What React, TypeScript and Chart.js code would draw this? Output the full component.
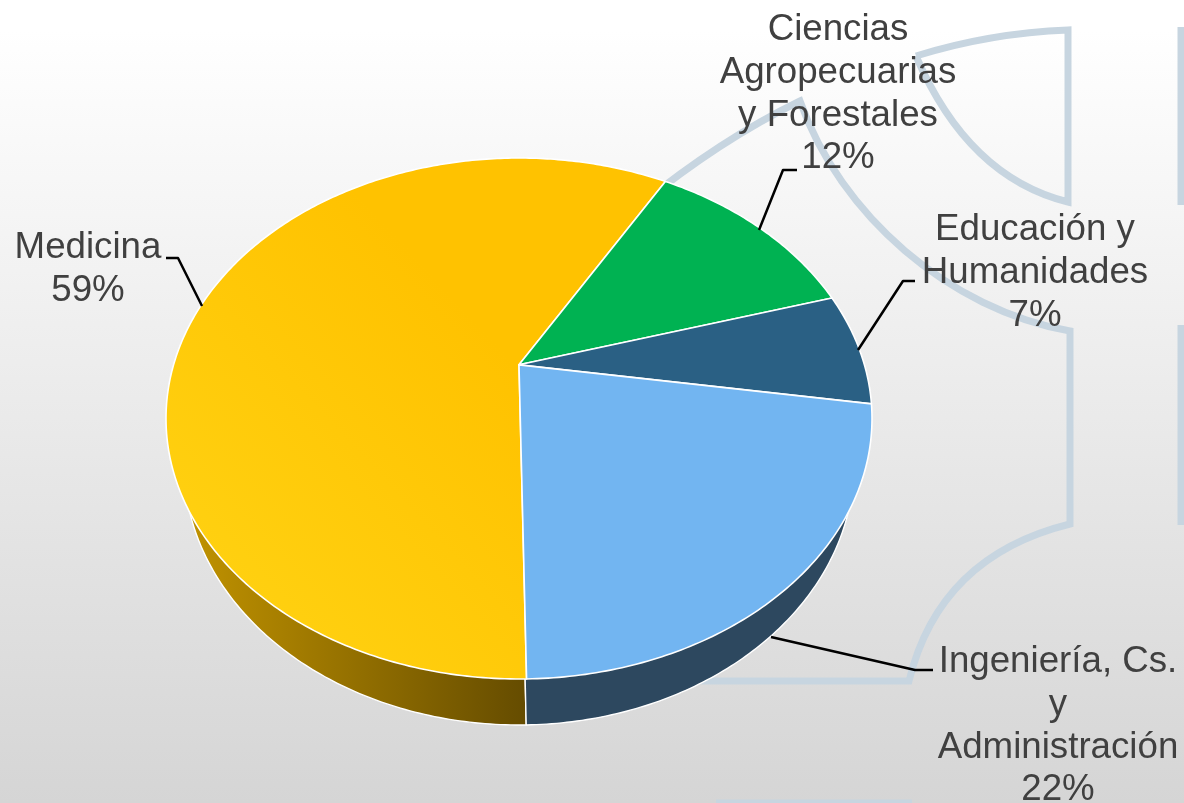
import React, { useEffect, useRef } from "react";
import { Chart, registerables } from "chart.js";

Chart.register(...registerables);

const categories = ["Medicina", "Ciencias Agropecuarias y Forestales", "Educación y Humanidades", "Ingeniería, Cs. y Administración"];
const labelLines = [["Medicina"], ["Ciencias", "Agropecuarias", "y Forestales"], ["Educación y", "Humanidades"], ["Ingeniería, Cs.", "y", "Administración"]];
const shares = [58.6, 12.1, 7.0, 22.3];
const topColors = ["#ffc200", "#00b252", "#2a6084", "#72b5f1"];
const wallColors = ["#8a6700", "#00602c", "#16344a", "#2d485f"];

const startRotation = 179;
const perspective = -0.206;
const lowerRim = { dx: 0, dy: 45.5, rx: 335, ry: 261 };
const labelAnchors = [
  { x: 88, y: 248, leader: [[166, 258], [178, 258], [202, 306]] },
  { x: 838, y: 30, leader: [[797, 170], [783, 170], [759, 230]] },
  { x: 1035, y: 230, leader: [[915, 281], [903, 281], [858, 350]] },
  { x: 1058, y: 662, leader: [[933, 670], [915, 670], [771, 637]] },
];

function rimPoint(a: number, cx: number, cy: number, rx: number, ry: number) {
  const u = Math.cos(a), v = Math.sin(a), k = perspective;
  const d = 1 + k * v;
  return { x: cx + rx * (u * Math.sqrt(1 - k * k)) / d, y: cy + ry * (v + k) / d };
}

function slicePath(ctx: CanvasRenderingContext2D, s: number, e: number, cx: number, cy: number, rx: number, ry: number) {
  const centre = { x: cx, y: cy + ry * perspective };
  ctx.beginPath();
  ctx.moveTo(centre.x, centre.y);
  const n = Math.max(8, Math.ceil((e - s) * 80));
  for (let i = 0; i <= n; i++) {
    const p = rimPoint(s + ((e - s) * i) / n, cx, cy, rx, ry);
    ctx.lineTo(p.x, p.y);
  }
  ctx.closePath();
}

function strokeDecor(ctx: CanvasRenderingContext2D) {
  ctx.save();
  ctx.strokeStyle = "#c7d5e0";
  ctx.lineWidth = 7;
  ctx.lineJoin = "miter";
  ctx.beginPath();
  ctx.moveTo(916, 56);
  ctx.quadraticCurveTo(990, 33, 1068, 30);
  ctx.lineTo(1068, 202);
  ctx.bezierCurveTo(1000, 185, 950, 135, 916, 56);
  ctx.stroke();
  ctx.beginPath();
  ctx.moveTo(640, 205);
  ctx.quadraticCurveTo(720, 140, 800, 101);
  ctx.bezierCurveTo(840, 215, 950, 310, 1070, 331);
  ctx.lineTo(1070, 524);
  ctx.bezierCurveTo(985, 545, 930, 595, 909, 681);
  ctx.lineTo(700, 681);
  ctx.stroke();
  ctx.beginPath();
  ctx.moveTo(1181, 27);
  ctx.lineTo(1181, 205);
  ctx.moveTo(1181, 325);
  ctx.lineTo(1181, 525);
  ctx.moveTo(716, 803);
  ctx.lineTo(912, 803);
  ctx.stroke();
  ctx.restore();
}

const piePlugin = {
  id: "perspectivePie",
  beforeDraw(chart: any) {
    const { ctx, width, height } = chart;
    const g = ctx.createLinearGradient(0, 30, 0, height);
    g.addColorStop(0, "#ffffff");
    g.addColorStop(1, "#d5d5d5");
    ctx.fillStyle = g;
    ctx.fillRect(0, 0, width, height);
    strokeDecor(ctx);
  },
  beforeDatasetDraw(chart: any) {
    const { ctx, chartArea: a } = chart;
    const cx = (a.left + a.right) / 2, cy = (a.top + a.bottom) / 2;
    const rx = (a.right - a.left) / 2, ry = (a.bottom - a.top) / 2;
    const arcs = chart.getDatasetMeta(0).data;
    ctx.save();
    ctx.lineJoin = "round";
    arcs.forEach((arc: any, i: number) => {
      slicePath(ctx, arc.startAngle, arc.endAngle, cx + lowerRim.dx, cy + lowerRim.dy, lowerRim.rx, lowerRim.ry);
      if (i === 0) {
        const g = ctx.createLinearGradient(cx - 330, 0, cx + 7, 0);
        g.addColorStop(0, "#c09200");
        g.addColorStop(1, "#654c00");
        ctx.fillStyle = g;
      } else ctx.fillStyle = wallColors[i];
      ctx.fill();
      ctx.strokeStyle = "#ffffff";
      ctx.lineWidth = 1.4;
      ctx.stroke();
    });
    arcs.forEach((arc: any, i: number) => {
      slicePath(ctx, arc.startAngle, arc.endAngle, cx, cy, rx, ry);
      if (i === 0) {
        const g = ctx.createLinearGradient(cx, cy - 50, cx - 260, cy + 190);
        g.addColorStop(0, "#ffc200");
        g.addColorStop(1, "#ffd010");
        ctx.fillStyle = g;
      } else ctx.fillStyle = topColors[i];
      ctx.fill();
      ctx.strokeStyle = "#ffffff";
      ctx.lineWidth = 1.6;
      ctx.stroke();
    });
    ctx.restore();
    return false;
  },
  afterDatasetsDraw(chart: any) {
    const { ctx } = chart;
    ctx.save();
    ctx.strokeStyle = "#000000";
    ctx.lineWidth = 2.5;
    ctx.lineJoin = "round";
    labelAnchors.forEach((l) => {
      ctx.beginPath();
      l.leader.forEach(([x, y], i) => (i ? ctx.lineTo(x, y) : ctx.moveTo(x, y)));
      ctx.stroke();
    });
    ctx.fillStyle = "#404040";
    ctx.font = '36.7px "Liberation Sans"';
    ctx.textAlign = "center";
    ctx.textBaseline = "middle";
    labelAnchors.forEach((l, i) => {
      const lines = [...labelLines[i], `${Math.round(shares[i])}%`];
      lines.forEach((t, j) => ctx.fillText(t, l.x, l.y + j * 42.7));
    });
    ctx.restore();
  },
};

export default function App() {
  const ref = useRef<HTMLCanvasElement>(null);
  useEffect(() => {
    const chart = new Chart(ref.current!, {
      type: "pie",
      data: { labels: categories, datasets: [{ data: shares, backgroundColor: topColors, borderColor: "#ffffff" }] },
      options: {
        animation: false,
        responsive: false,
        rotation: startRotation,
        layout: { padding: { left: 166, right: 312, top: 158, bottom: 124 } },
        plugins: { legend: { display: false }, tooltip: { enabled: false } },
      },
      plugins: [piePlugin],
    } as any);
    return () => chart.destroy();
  }, []);
  return (
    <div style={{ position: "absolute", left: 0, top: 0, width: 1184, height: 803, overflow: "hidden" }}>
      <canvas ref={ref} width={1184} height={803} style={{ display: "block" }} />
    </div>
  );
}
